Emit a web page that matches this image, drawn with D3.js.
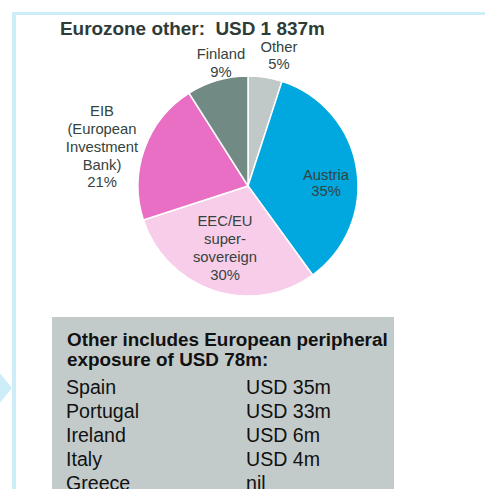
<!DOCTYPE html>
<html><head><meta charset="utf-8">
<script src="https://cdn.jsdelivr.net/npm/d3@7"></script>
<style>html,body{margin:0;padding:0;background:#fff;}svg{display:block;}</style>
</head><body>
<svg id="chart" width="485" height="489"></svg>
<script>
const categories = ["Other", "Austria", "EEC/EU super-sovereign", "EIB (European Investment Bank)", "Finland"];
const values = [5, 35, 30, 21, 9];
const labelLines = [["Other", "5%"], ["Austria", "35%"], ["EEC/EU", "super-", "sovereign", "30%"], ["EIB", "(European", "Investment", "Bank)", "21%"], ["Finland", "9%"]];
const colors = ["#c0c9c7", "#00a8df", "#f8cde9", "#e96fc4", "#728a84"];
const titleText = "Eurozone other:  USD 1 837m";
const boxTitle = ["Other includes European peripheral", "exposure of USD 78m:"];
const countries = ["Spain", "Portugal", "Ireland", "Italy", "Greece"];
const amounts = ["USD 35m", "USD 33m", "USD 6m", "USD 4m", "nil"];

const svg = d3.select("#chart");
const font = "'Liberation Sans', Arial, sans-serif";

function fitWidth(sel, target) {
  const fs = +sel.attr("font-size");
  const w = sel.node().getComputedTextLength();
  if (w > 0) sel.attr("font-size", (fs * target / w).toFixed(2));
  return sel;
}

// frame
svg.append("rect").attr("x", 12).attr("y", 12).attr("width", 473).attr("height", 3).attr("fill", "#cdeef8");
svg.append("rect").attr("x", 12).attr("y", 12).attr("width", 4).attr("height", 477).attr("fill", "#cdeef8");
svg.append("path").attr("d", "M-5,367 L12,388 L-5,409 Z").attr("fill", "#cdeef8");

// title
const title = svg.append("text").attr("x", 60).attr("y", 35).attr("font-family", font).attr("font-weight", "bold")
  .attr("font-size", 18).attr("fill", "#2e3c37").style("white-space", "pre").text(titleText);
fitWidth(title, 265);

// pie
const cx = 248, cy = 186, r = 110;
const pie = d3.pie().sort(null).value(d => d)(values);
const arc = d3.arc().innerRadius(0).outerRadius(r);
const g = svg.append("g").attr("transform", `translate(${cx},${cy})`);
g.selectAll("path").data(pie).join("path").attr("d", arc)
  .attr("fill", (d, i) => colors[i]).attr("stroke", "#fff").attr("stroke-width", 1.5);

// label positions (center x, first line center y)
const labelPos = [[279, 47], [326, 175], [225, 221], [102, 111], [221, 54]];
const lineH = [17, 16, 18, 17.8, 18];
labelLines.forEach((lines, i) => {
  const t = svg.append("text").attr("font-family", font).attr("font-size", 14.8)
    .attr("fill", "#34433e").attr("text-anchor", "middle");
  lines.forEach((ln, j) => {
    t.append("tspan").attr("x", labelPos[i][0]).attr("y", labelPos[i][1] + j * lineH[i])
      .attr("dy", "0.35em").text(ln);
  });
});

// box
svg.append("rect").attr("x", 52).attr("y", 317).attr("width", 342).attr("height", 180).attr("fill", "#c3cbca");
const bt = boxTitle.map((s, i) => svg.append("text").attr("x", 67).attr("y", 346 + i * 20).attr("font-family", font)
    .attr("font-weight", "bold").attr("font-size", 18).attr("fill", "#111").text(s));
fitWidth(bt[0], 321);
bt[1].attr("font-size", bt[0].attr("font-size"));
const rowFs = (() => {
  const t = svg.append("text").attr("font-family", font).attr("font-size", 18).text(amounts[0]);
  const w = t.node().getComputedTextLength(); t.remove();
  return 18 * 85 / w;
})();
countries.forEach((c, i) => {
  const y = 394 + i * 24;
  svg.append("text").attr("x", 66).attr("y", y).attr("font-family", font).attr("font-size", rowFs).attr("fill", "#111").text(c);
  svg.append("text").attr("x", 246).attr("y", y).attr("font-family", font).attr("font-size", rowFs).attr("fill", "#111").text(amounts[i]);
});
</script>
</body></html>
